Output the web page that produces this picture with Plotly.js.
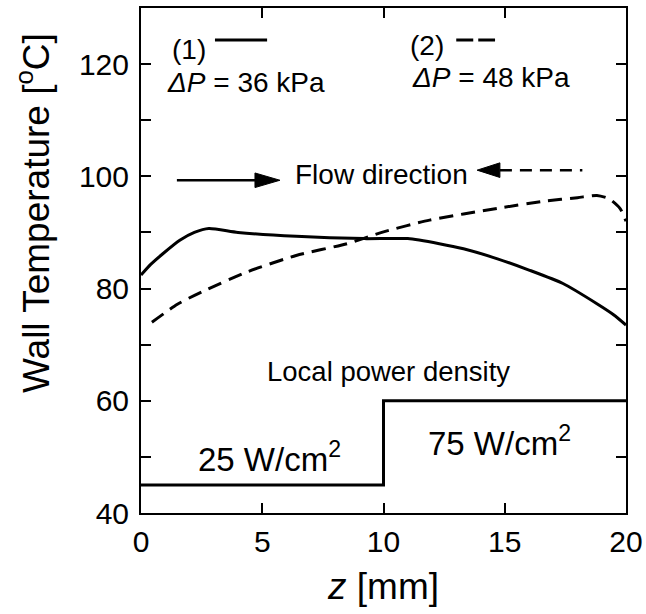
<!DOCTYPE html>
<html>
<head>
<meta charset="utf-8">
<script src="https://cdn.plot.ly/plotly-3.0.1.min.js"></script>
<style>html,body{margin:0;padding:0;background:#fff;}#chart{width:646px;height:614px;}</style>
</head>
<body>
<div id="chart"></div>
<script>
// Case (1): dP = 36 kPa, solid
const z1 = [0, 0.4, 0.9, 1.6, 2.2, 2.8, 4, 6.4, 9.2, 11, 12.3, 13.3, 14.7, 16, 17.4, 18.8, 19.5, 20];
const T1 = [82.4, 84.3, 86.2, 88.6, 90.0, 90.7, 90.0, 89.3, 88.9, 88.9, 88.0, 87.1, 85.3, 83.3, 80.9, 77.3, 75.3, 73.5];
// Case (2): dP = 48 kPa, dashed
const z2 = [0.45, 1.5, 2.5, 4.4, 6.4, 8.5, 10, 11.9, 14.7, 16.7, 18, 18.8, 19.3, 19.75, 20];
const T2 = [74.0, 77.2, 79.4, 83.0, 85.9, 88.0, 90.1, 92.2, 94.3, 95.6, 96.2, 96.6, 96.0, 94.3, 92.0];
// Local power density step (drawn on the temperature scale)
const zStep = [0, 10, 20];
const yStep = [45, 60, 60];
// Legend sample segments
const leg1z = [3.05, 5.2], leg1y = [124.3, 124.3];
const leg2z = [13.0, 14.6], leg2y = [124.3, 124.3];
// Flow direction arrows
const arr1z = [1.48, 4.7], arr1y = [99.3, 99.3];
const arr2z = [14.8, 18.2], arr2y = [101.1, 101.1];
const xTicks = [0, 5, 10, 15, 20];
const yTicks = [40, 60, 80, 100, 120];

const FONT = "Liberation Sans, Arial, Helvetica, sans-serif";
const black = "#000";

const traces = [
  {x: z1, y: T1, mode: "lines", line: {color: black, width: 3, shape: "spline", smoothing: 0.6}},
  {x: z2, y: T2, mode: "lines", line: {color: black, width: 3, dash: "14px,8px", shape: "spline", smoothing: 0.6}},
  {x: zStep, y: yStep, mode: "lines", line: {color: black, width: 3, shape: "hv"}},
  {x: leg1z, y: leg1y, mode: "lines", line: {color: black, width: 3}},
  {x: leg2z, y: leg2y, mode: "lines", line: {color: black, width: 3, dash: "17px,5px"}},
  {x: arr1z, y: arr1y, mode: "lines", line: {color: black, width: 2.5}},
  {x: arr2z, y: arr2y, mode: "lines", line: {color: black, width: 2.5, dash: "12px,8px"}}
];

function tri(tipZ, baseZ, yc, hh) {
  return {type: "path", xref: "x", yref: "y",
    path: `M ${tipZ} ${yc} L ${baseZ} ${yc + hh} L ${baseZ} ${yc - hh} Z`,
    fillcolor: black, line: {color: black, width: 1}};
}

const ann = (x, y, text, size, xanchor, extra) => Object.assign({
  x: x, y: y, xref: "x", yref: "y", text: text, showarrow: false,
  xanchor: xanchor || "center", yanchor: "middle",
  font: {family: FONT, size: size, color: black}
}, extra || {});

const layout = {
  width: 646, height: 614,
  margin: {l: 141, r: 20, t: 8, b: 101, pad: 0},
  paper_bgcolor: "#fff", plot_bgcolor: "#fff",
  showlegend: false,
  font: {family: FONT, color: black},
  xaxis: {
    range: [0, 20], tickvals: xTicks, ticktext: xTicks.map(String),
    showline: true, linewidth: 2, linecolor: black, mirror: "ticks",
    ticks: "inside", ticklen: 10, tickwidth: 2, tickcolor: black,
    showgrid: false, zeroline: false,
    tickfont: {family: FONT, size: 30, color: black},
    ticklabelstandoff: 1,
    title: {text: "<i>z</i> [mm]", font: {family: FONT, size: 37, color: black}, standoff: 16}
  },
  yaxis: {
    range: [40, 130], tickvals: yTicks, ticktext: yTicks.map(String),
    showline: true, linewidth: 2, linecolor: black, mirror: "ticks",
    ticks: "inside", ticklen: 10, tickwidth: 2, tickcolor: black,
    minor: {dtick: 10, tick0: 40, ticks: "inside", ticklen: 10, tickwidth: 2, tickcolor: black, showgrid: false},
    showgrid: false, zeroline: false,
    tickfont: {family: FONT, size: 30, color: black},
    ticklabelstandoff: 4
  },
  shapes: [
    tri(5.73, 4.7, 99.3, 1.3),
    tri(13.86, 14.8, 101.1, 1.3)
  ],
  annotations: [
    {xref: "paper", yref: "paper", x: -141/485 + 33/485, y: (513 - 213) / 505,
     text: "Wall Temperature [<sup>o</sup>C]", textangle: -90, showarrow: false,
     xanchor: "center", yanchor: "middle", font: {family: FONT, size: 37, color: black}},
    ann(1.2, 122.6, "(1)", 28, "left"),
    ann(1.0, 116.7, "<i>Δ</i><i>P</i> = 36 kPa", 28, "left"),
    ann(11.0, 123.3, "(2)", 28, "left"),
    ann(11.1, 117.6, "<i>Δ</i><i>P</i> = 48 kPa", 28, "left"),
    ann(9.9, 100.4, "Flow direction", 28, "center"),
    ann(10.2, 65.3, "Local power density", 27.5, "center"),
    ann(5.3, 49.9, "25 W/cm<sup>2</sup>", 33, "center"),
    ann(14.8, 52.9, "75 W/cm<sup>2</sup>", 33, "center")
  ]
};

Plotly.newPlot("chart", traces, layout, {displayModeBar: false, staticPlot: true});
</script>
</body>
</html>
